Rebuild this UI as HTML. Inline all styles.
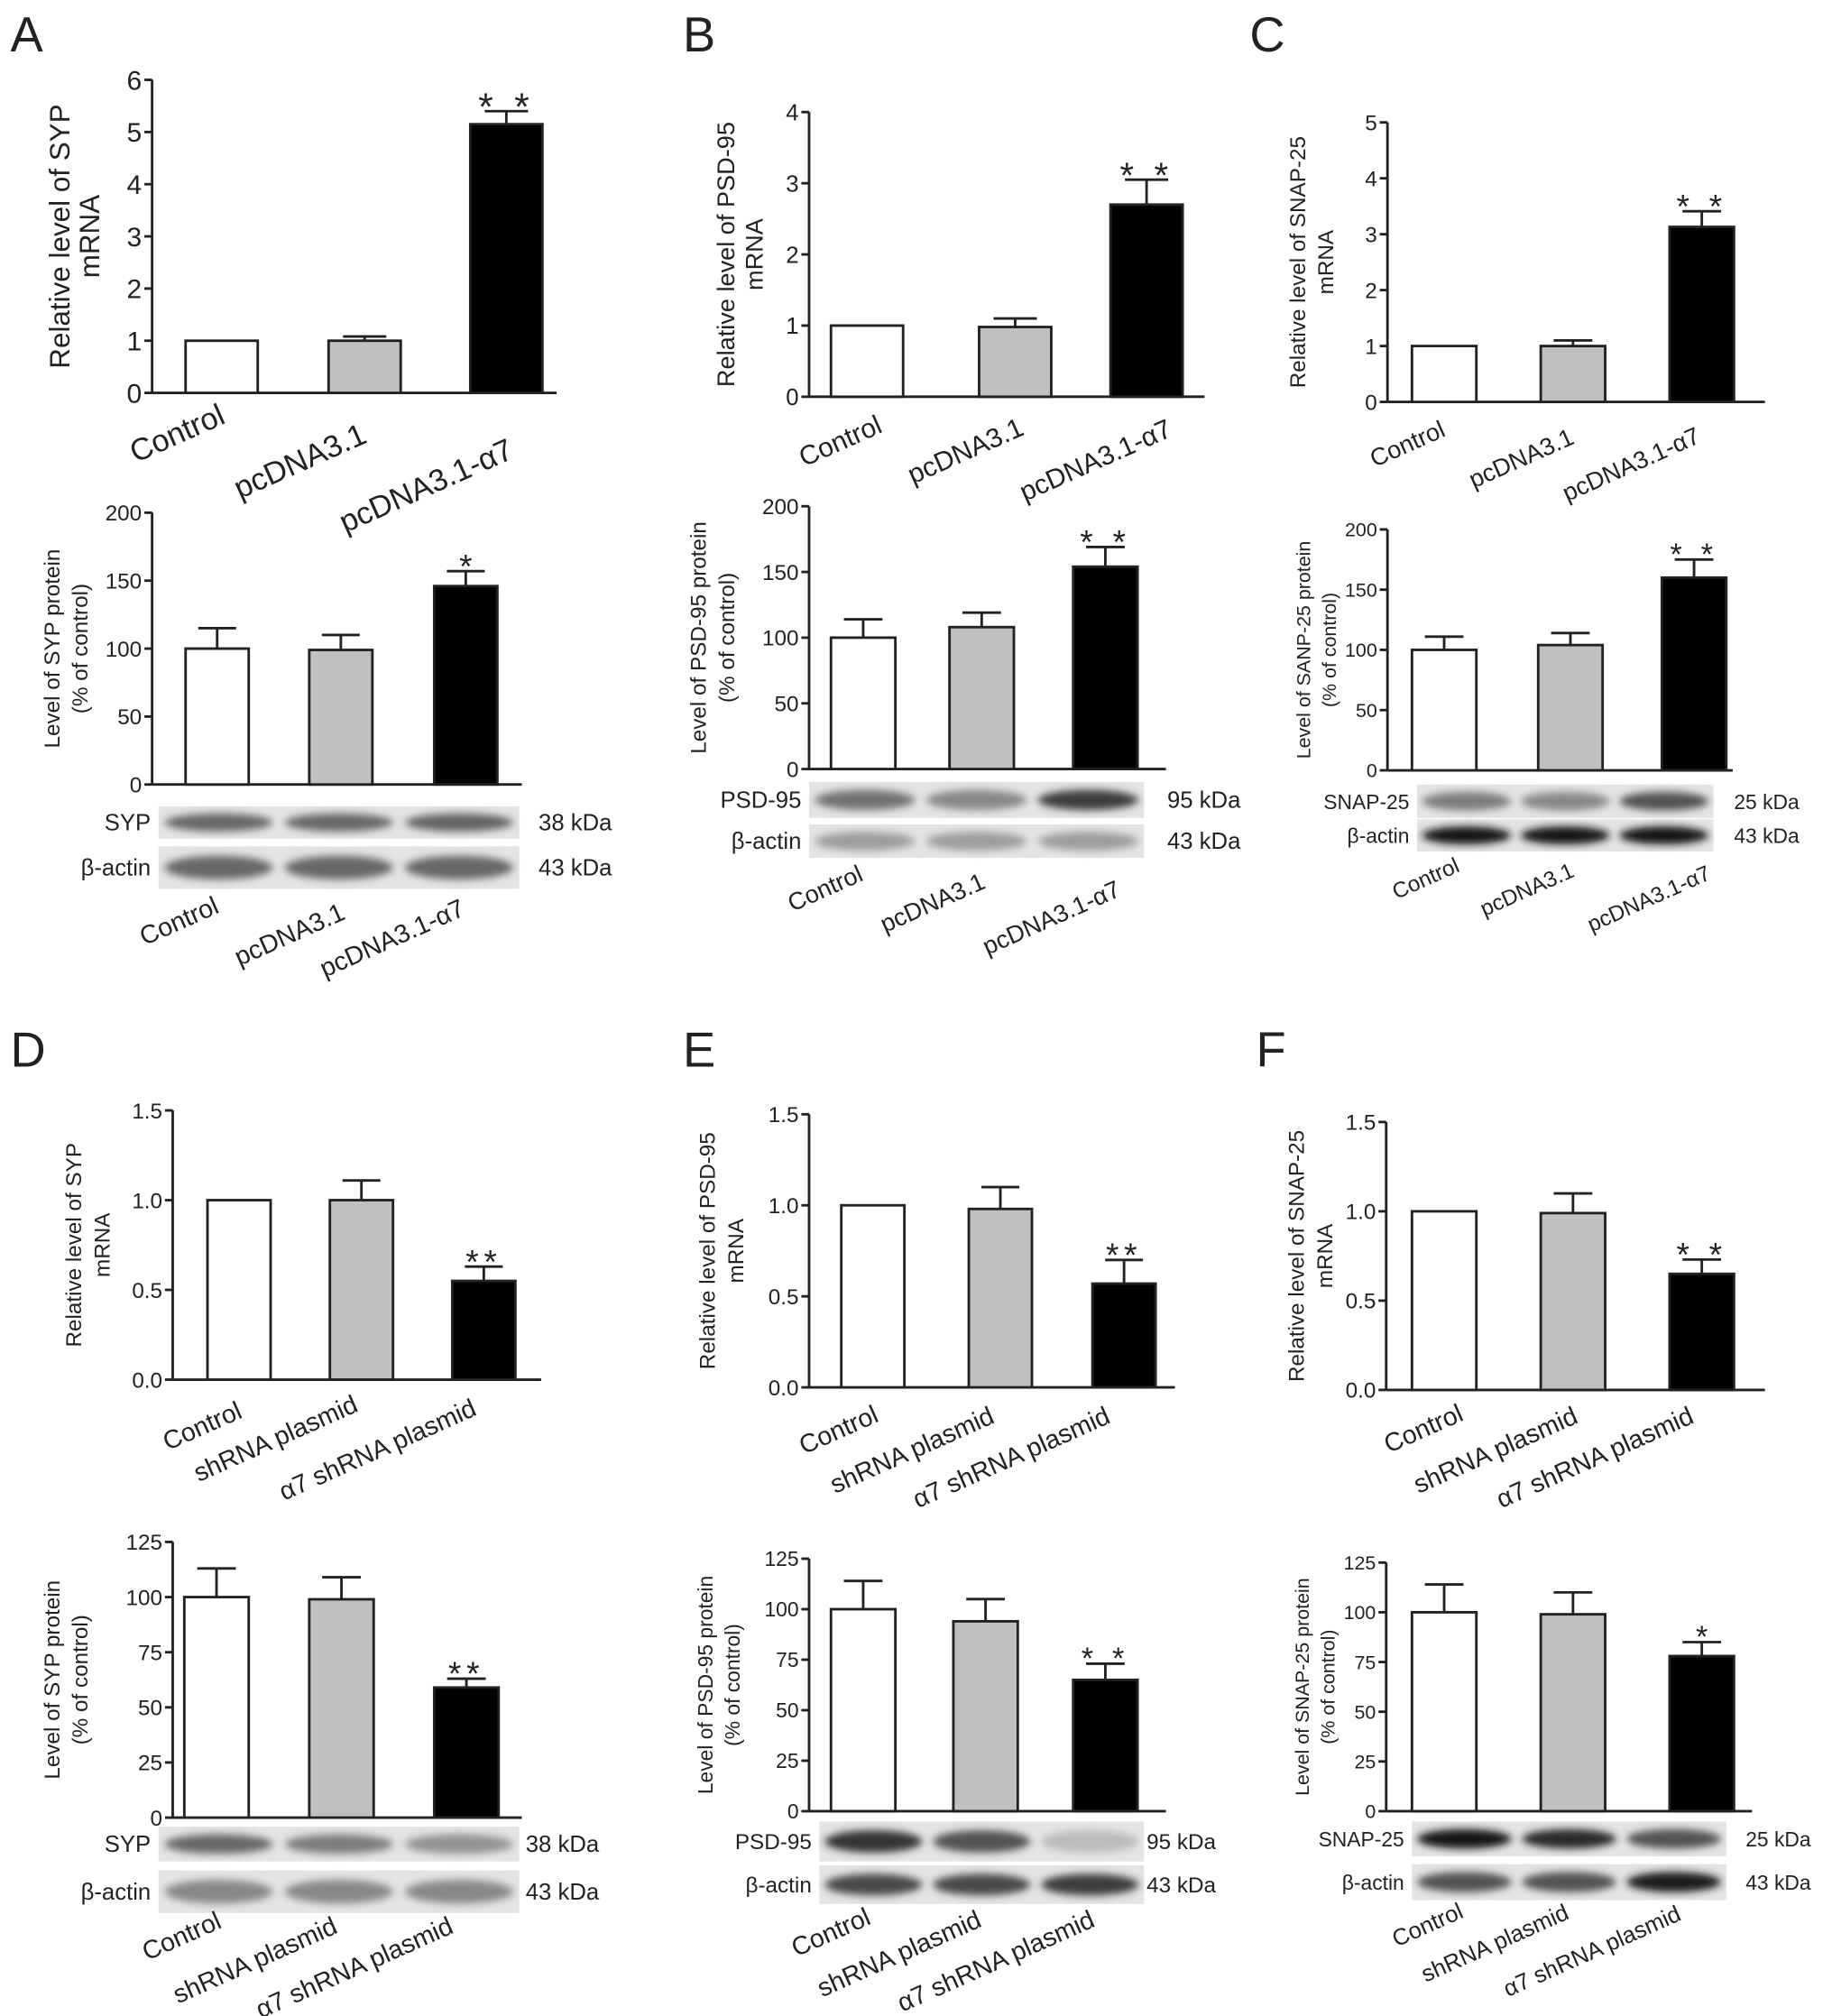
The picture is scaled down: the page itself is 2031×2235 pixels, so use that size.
<!DOCTYPE html>
<html><head><meta charset="utf-8"><style>
html,body{margin:0;padding:0;background:#fff}
svg{display:block}
text{font-family:"Liberation Sans",sans-serif;fill:#222}
</style></head><body>
<svg id="fig" width="2031" height="2235" viewBox="0 0 1422 1565" xmlns="http://www.w3.org/2000/svg">
<defs><filter id="blur" x="-20%" y="-50%" width="140%" height="200%"><feGaussianBlur stdDeviation="3"/></filter></defs>
</svg>
<script>
// ---- data ----
const groupsTop = ["Control","pcDNA3.1","pcDNA3.1-α7"];
const groupsBot = ["Control","shRNA plasmid","α7 shRNA plasmid"];
const aMrnaVals=[1,1.0,5.15], aMrnaErr=[0,0.08,0.25];
const aProtVals=[100,99,146], aProtErr=[15,11,11];
const bMrnaVals=[1,0.98,2.7], bMrnaErr=[0,0.12,0.35];
const bProtVals=[100,108,154], bProtErr=[14,11,15];
const cMrnaVals=[1,1.0,3.13], cMrnaErr=[0,0.1,0.28];
const cProtVals=[100,104,160], cProtErr=[11,10,15];
const dMrnaVals=[1,1.0,0.55], dMrnaErr=[0,0.11,0.08];
const dProtVals=[100,99,59], dProtErr=[13,10,4];
const eMrnaVals=[1,0.98,0.57], eMrnaErr=[0,0.12,0.13];
const eProtVals=[100,94,65], eProtErr=[14,11,8];
const fMrnaVals=[1,0.99,0.65], fMrnaErr=[0,0.11,0.08];
const fProtVals=[100,99,78], fProtErr=[14,11,7];
const ticks6=[0,1,2,3,4,5,6], ticks4=[0,1,2,3,4], ticks5=[0,1,2,3,4,5];
const ticks200=[0,50,100,150,200], ticks15=["0.0","0.5","1.0","1.5"], ticks125=[0,25,50,75,100,125];
const fills=["#fff","#c0c0c0","#000"];

const svg=document.getElementById('fig');
const NS="http://www.w3.org/2000/svg";
function el(tag,attrs,parent){const e=document.createElementNS(NS,tag);for(const k in attrs)e.setAttribute(k,attrs[k]);(parent||svg).appendChild(e);return e;}
function txt(s,attrs,parent){const t=el('text',attrs,parent);t.textContent=s;return t;}
const ROT=-24;

function chart(o){
  const g=el('g',{});
  
  
  const max=o.max, y=v=>o.y0-(v/max)*(o.y0-o.yTop);
  el('line',{x1:o.ax,y1:o.yTop,x2:o.ax,y2:o.y0,stroke:'#222','stroke-width':2},g);
  el('line',{x1:o.ax,y1:o.y0,x2:o.axEnd,y2:o.y0,stroke:'#222','stroke-width':2},g);
  o.ticks.forEach(t=>{const v=parseFloat(t);const yy=y(v);
    el('line',{x1:o.ax-6,y1:yy,x2:o.ax,y2:yy,stroke:'#222','stroke-width':2},g);
    const lab=txt(String(t),{x:o.ax-8,y:yy+o.fs*0.36,'font-size':o.fs,'text-anchor':'end'},g);
    });
  o.vals.forEach((v,i)=>{const x0=o.bx[i],w=o.bw;
    const r=el('rect',{x:x0,y:y(v),width:w,height:o.y0-y(v),fill:fills[i],stroke:'#222','stroke-width':2},g);
    
    if(o.err[i]>0){const cx=x0+w/2,ye=y(v+o.err[i]);
      el('line',{x1:cx,y1:y(v),x2:cx,y2:ye,stroke:'#222','stroke-width':2},g);
      el('line',{x1:cx-w*0.3,y1:ye,x2:cx+w*0.3,y2:ye,stroke:'#222','stroke-width':2},g);}
  });
  if(o.star){const i=2,cx=o.bx[i]+o.bw/2,ye=y(o.vals[i]+o.err[i]);
    const s=txt(o.star,{x:cx,y:ye-8+ (o.starFs||26)*0.5,'font-size':o.starFs||26,'text-anchor':'middle',fill:'#444','letter-spacing':o.star.length>1?'4':'0'},g);
    }
  const ty=(o.yTop+o.y0)/2;
  o.ylab.forEach((l,k)=>{const lx=o.ylx+k*o.yls;
    const t=txt(l,{x:lx,y:ty,'font-size':o.yfs,'text-anchor':'middle',transform:`rotate(-90 ${lx} ${ty})`},g);
    });
  if(o.xl){o.groups.forEach((gname,i)=>{const p=o.xl[i];
    const t=txt(gname,{x:p[0],y:p[1],'font-size':o.xfs,'text-anchor':'end',transform:`rotate(${ROT} ${p[0]} ${p[1]})`},g);
    });}
  return g;
}
function blot(o){
  const g=el('g',{});
  
  
  o.rows.forEach((r,ri)=>{
    el('rect',{x:o.x,y:r.y,width:o.w,height:r.h,fill:'#e4e4e4'},g);
    const lw=o.w/3;
    r.int.forEach((a,i)=>{const c=Math.round(230-a*210);
      const b=el('ellipse',{cx:o.x+lw*(i+0.5),cy:r.y+r.h/2,rx:lw*0.45,ry:r.h*0.28,fill:`rgb(${c},${c},${c})`,filter:'url(#blur)'},g);
      });
    const l=txt(r.label,{x:o.x-6,y:r.y+r.h/2+6,'font-size':o.fs,'text-anchor':'end'},g);
    
    const k=txt(r.kda,{x:o.kx,y:r.y+r.h/2+6,'font-size':o.fs},g);
    
  });
  o.groups.forEach((gname,i)=>{const p=o.xl[i];
    const t=txt(gname,{x:p[0],y:p[1],'font-size':o.xfs,'text-anchor':'end',transform:`rotate(${ROT} ${p[0]} ${p[1]})`},g);
    });
}
function letter(s,x,y){const t=txt(s,{x:x,y:y,'font-size':38});}

letter('A',8,40);letter('B',530,40);letter('C',970,40);letter('D',8,828);letter('E',530,828);letter('F',975,828);

// A
chart({name:'panel-a-mrna',ax:118,yTop:62,y0:305,axEnd:432,max:6,ticks:ticks6,fs:21,vals:aMrnaVals,err:aMrnaErr,bx:[144,255,365],bw:56,star:'* *',starFs:30,ylab:['Relative level of SYP','mRNA'],ylx:54,yls:23,yfs:22,groups:groupsTop,xl:[[176,328],[286,343],[400,355]],xfs:24});
chart({name:'panel-a-protein',ax:118,yTop:398,y0:609,axEnd:405,max:200,ticks:ticks200,fs:17,vals:aProtVals,err:aProtErr,bx:[144,240,337],bw:49,star:'*',starFs:26,ylab:['Level of SYP protein','(% of control)'],ylx:46,yls:22,yfs:17,groups:groupsTop});
blot({name:'panel-a-blot',x:123,w:280,fs:18,kx:418,rows:[{y:626,h:25,label:'SYP',kda:'38 kDa',int:[0.6,0.6,0.62]},{y:657,h:33,label:'β-actin',kda:'43 kDa',int:[0.6,0.6,0.6]}],groups:groupsTop,xl:[[171,708],[269,713],[362,710]],xfs:20});
// B
chart({name:'panel-b-mrna',ax:628,yTop:87,y0:308,axEnd:935,max:4,ticks:ticks4,fs:18,vals:bMrnaVals,err:bMrnaErr,bx:[645,760,862],bw:56,star:'* *',starFs:28,ylab:['Relative level of PSD-95','mRNA'],ylx:570,yls:22,yfs:19,groups:groupsTop,xl:[[686,335],[796,337],[911,338]],xfs:21});
chart({name:'panel-b-protein',ax:628,yTop:393,y0:597,axEnd:905,max:200,ticks:ticks200,fs:17,vals:bProtVals,err:bProtErr,bx:[645,737,833],bw:50,star:'* *',starFs:26,ylab:['Level of PSD-95 protein','(% of control)'],ylx:548,yls:22,yfs:17,groups:groupsTop});
blot({name:'panel-b-blot',x:628,w:260,fs:18,kx:906,rows:[{y:607,h:28,label:'PSD-95',kda:'95 kDa',int:[0.55,0.45,0.8]},{y:640,h:26,label:'β-actin',kda:'43 kDa',int:[0.35,0.35,0.35]}],groups:groupsTop,xl:[[671,683],[766,689],[871,695]],xfs:19});
// C
chart({name:'panel-c-mrna',ax:1077,yTop:95,y0:312,axEnd:1370,max:5,ticks:ticks5,fs:17,vals:cMrnaVals,err:cMrnaErr,bx:[1096,1196,1296],bw:50,star:'* *',starFs:26,ylab:['Relative level of SNAP-25','mRNA'],ylx:1013,yls:22,yfs:17,groups:groupsTop,xl:[[1123,338],[1223,344],[1321,343]],xfs:19});
chart({name:'panel-c-protein',ax:1077,yTop:411,y0:598,axEnd:1345,max:200,ticks:ticks200,fs:15,vals:cProtVals,err:cProtErr,bx:[1096,1194,1290],bw:50,star:'* *',starFs:24,ylab:['Level of SANP-25 protein','(% of control)'],ylx:1017,yls:20,yfs:15,groups:groupsTop});
blot({name:'panel-c-blot',x:1100,w:230,fs:16,kx:1346,rows:[{y:609,h:26,label:'SNAP-25',kda:'25 kDa',int:[0.5,0.45,0.7]},{y:636,h:25,label:'β-actin',kda:'43 kDa',int:[1,1,1]}],groups:groupsTop,xl:[[1134,676],[1223,680],[1329,682]],xfs:17});
// D
chart({name:'panel-d-mrna',ax:134,yTop:862,y0:1071,axEnd:420,max:1.5,ticks:ticks15,fs:17,vals:dMrnaVals,err:dMrnaErr,bx:[161,256,351],bw:49,star:'**',starFs:26,ylab:['Relative level of SYP','mRNA'],ylx:63,yls:22,yfs:17,groups:groupsBot,xl:[[189,1100],[279,1095],[371,1098]],xfs:20});
chart({name:'panel-d-protein',ax:134,yTop:1197,y0:1411,axEnd:405,max:125,ticks:ticks125,fs:17,vals:dProtVals,err:dProtErr,bx:[143,240,337],bw:50,star:'**',starFs:26,ylab:['Level of SYP protein','(% of control)'],ylx:46,yls:22,yfs:17,groups:groupsBot});
blot({name:'panel-d-blot',x:123,w:280,fs:18,kx:408,rows:[{y:1418,h:27,label:'SYP',kda:'38 kDa',int:[0.6,0.5,0.4]},{y:1452,h:33,label:'β-actin',kda:'43 kDa',int:[0.45,0.45,0.45]}],groups:groupsBot,xl:[[173,1496],[263,1500],[353,1500]],xfs:20});
// E
chart({name:'panel-e-mrna',ax:628,yTop:865,y0:1077,axEnd:912,max:1.5,ticks:ticks15,fs:17,vals:eMrnaVals,err:eMrnaErr,bx:[653,752,848],bw:49,star:'**',starFs:26,ylab:['Relative level of PSD-95','mRNA'],ylx:555,yls:22,yfs:17,groups:groupsBot,xl:[[683,1103],[773,1104],[863,1104]],xfs:20});
chart({name:'panel-e-protein',ax:628,yTop:1210,y0:1406,axEnd:905,max:125,ticks:ticks125,fs:16,vals:eProtVals,err:eProtErr,bx:[645,740,833],bw:50,star:'* *',starFs:24,ylab:['Level of PSD-95 protein','(% of control)'],ylx:553,yls:21,yfs:16,groups:groupsBot});
blot({name:'panel-e-blot',x:636,w:252,fs:17,kx:890,rows:[{y:1414,h:31,label:'PSD-95',kda:'95 kDa',int:[0.85,0.7,0.2]},{y:1448,h:30,label:'β-actin',kda:'43 kDa',int:[0.75,0.75,0.8]}],groups:groupsBot,xl:[[677,1493],[763,1495],[851,1495]],xfs:20});
// F
chart({name:'panel-f-mrna',ax:1076,yTop:871,y0:1079,axEnd:1370,max:1.5,ticks:ticks15,fs:17,vals:fMrnaVals,err:fMrnaErr,bx:[1096,1196,1296],bw:50,star:'* *',starFs:26,ylab:['Relative level of SNAP-25','mRNA'],ylx:1012,yls:22,yfs:17,groups:groupsBot,xl:[[1137,1102],[1226,1104],[1316,1104]],xfs:20});
chart({name:'panel-f-protein',ax:1076,yTop:1213,y0:1406,axEnd:1360,max:125,ticks:ticks125,fs:15,vals:fProtVals,err:fProtErr,bx:[1096,1196,1296],bw:50,star:'*',starFs:24,ylab:['Level of SNAP-25 protein','(% of control)'],ylx:1016,yls:20,yfs:15,groups:groupsBot});
blot({name:'panel-f-blot',x:1096,w:244,fs:16,kx:1355,rows:[{y:1414,h:27,label:'SNAP-25',kda:'25 kDa',int:[1,0.9,0.7]},{y:1447,h:28,label:'β-actin',kda:'43 kDa',int:[0.7,0.7,0.95]}],groups:groupsBot,xl:[[1137,1488],[1219,1489],[1306,1490]],xfs:18});
</script>
</body></html>
